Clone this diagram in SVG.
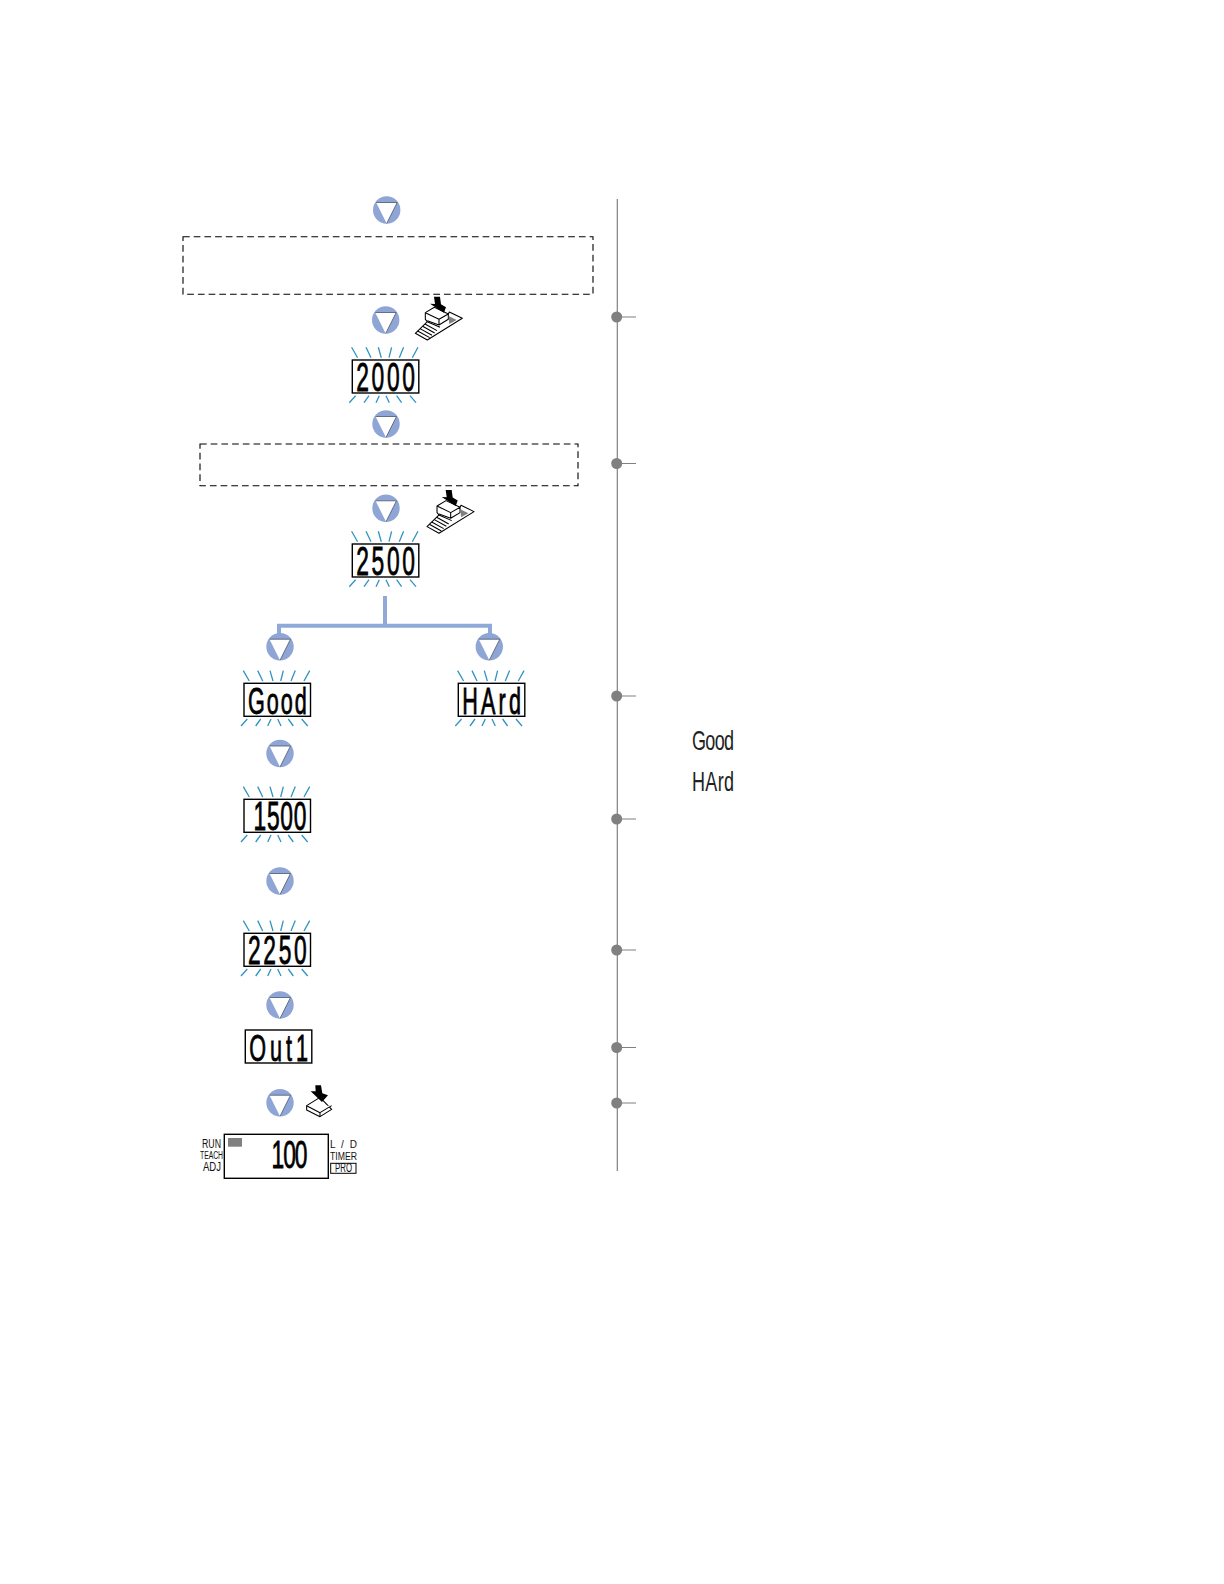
<svg xmlns="http://www.w3.org/2000/svg" width="1224" height="1584" viewBox="0 0 1224 1584">
<style>
.bg{fill:#fff}
.circ{fill:#8fa5d6}
.tri{fill:#fff}
.tre{fill:none;stroke:#4a5568;stroke-width:.8}
.ray{stroke:#2f93c4;stroke-width:1.3;fill:none}
.disp{fill:#fff;stroke:#000;stroke-width:1.4}
.seg{font-family:"Liberation Sans",Arial,sans-serif;font-size:19px;fill:#000;stroke:#000;stroke-width:.4;text-anchor:middle}
.seg2{font-family:"Liberation Sans",Arial,sans-serif;font-size:15px;fill:#222;text-anchor:start}
.dash{fill:none;stroke:#000;stroke-width:1.1;stroke-dasharray:6.700 4}
.branch{fill:none;stroke:#8fa9d8;stroke-width:4}
.rule{stroke:#808080;stroke-width:1.2;fill:none}
.dot{fill:#808080}
.lbl{font-family:"Liberation Sans",Arial,sans-serif;font-size:12px;fill:#111}
.ico{fill:#fff;stroke:#000;stroke-width:3.200;stroke-linejoin:round}
.arr{fill:#000}
.pad{fill:#808080}
</style>
<defs>
<g id="down"><circle class="circ" r="13.7"/><path class="tri" d="M-10.500-7.500H10.500L0 13.500Z"/><path class="tre" d="M-10.500-7.500H10.500L0 13.500"/></g>
<g id="rays" class="ray">
<path d="M-.7-12.700 5.300-2.300M13.700-12.700 18.700-2.300M26-12.700 29-2.300M39.300-12.700 36.700-2.300M51.300-12.700 47-2.300M65.700-12.700 60-2.300"/>
<path d="M-3 42.700 3.300 35.700M11.700 42.700 16.700 35.700M23.700 42.700 27 35.700M37 42.700 33.700 35.700M49.300 42.700 44.300 35.700M63.700 42.700 57.700 35.700"/>
</g>
<rect id="frame" class="disp" width="66.500" height="33"/>
<g id="pedal" transform="scale(.3333)">
<path class="ico" d="M226 430 262 395 256 388V368L283 352 325 372 328 366 367 385 262 450Z"/>
<path class="ico" d="M256 368 297 388 325 372M297 388V405L262 392M297 405 325 388V372"/>
<path class="pad" d="M326 378 350 390 328 402Z"/>
<path class="ico" fill="none" d="M233 423 269 443M240 416 276 436M248 409 284 429M255 402 291 422M262 395 300 412"/>
<path class="arr" d="M282 320H300L303 343 318 352 312 368 270 341 285 342Z"/>
</g>
</defs>
<rect class="bg" width="1224" height="1584"/>

<g id="connectors">
<path class="branch" d="M385 596V625.700M279 637V625.700H490V637"/>
<path class="rule" d="M617.300 199V1171"/>
<path class="rule" d="M617 317H636M617 463.500H636M617 696H636M617 819H636M617 950H636M617 1047.500H636M617 1103H636"/>
</g>

<g id="markers">
<circle class="dot" cx="616.700" cy="317" r="5.500"/>
<circle class="dot" cx="616.700" cy="463.500" r="5.500"/>
<circle class="dot" cx="616.700" cy="696" r="5.500"/>
<circle class="dot" cx="616.700" cy="819" r="5.500"/>
<circle class="dot" cx="616.700" cy="950" r="5.500"/>
<circle class="dot" cx="616.700" cy="1047.500" r="5.500"/>
<circle class="dot" cx="616.700" cy="1103" r="5.500"/>
</g>

<g id="step-1"><use href="#down" x="386.700" y="210"/></g>
<g id="note-1"><rect class="dash" x="183" y="236.700" width="410" height="57.600"/></g>
<g id="step-2"><use href="#down" x="385.700" y="320"/></g>
<g id="pedal-1"><use href="#pedal" transform="translate(340 190)"/></g>
<g id="display-2000" transform="translate(352.300 360)"><use href="#rays"/><use href="#frame"/><text class="seg" transform="translate(33.300 31) scale(1.200 2.100)" textLength="49">2000</text></g>
<g id="step-3"><use href="#down" x="386" y="424"/></g>
<g id="note-2"><rect class="dash" x="200" y="444" width="378" height="41.700"/></g>
<g id="step-4"><use href="#down" x="386" y="508.300"/></g>
<g id="pedal-2"><use href="#pedal" transform="translate(351.700 383.300)"/></g>
<g id="display-2500" transform="translate(352.300 544)"><use href="#rays"/><use href="#frame"/><text class="seg" transform="translate(33.300 31) scale(1.200 2.100)" textLength="49">2500</text></g>

<g id="step-good"><use href="#down" x="280" y="646.700"/></g>
<g id="step-hard"><use href="#down" x="489.300" y="646.700"/></g>
<g id="display-good" transform="translate(244 683.300)"><use href="#rays"/><use href="#frame"/><text class="seg" transform="translate(33.300 31) scale(1.200 2.100)" textLength="49" style="font-size:18px">Good</text></g>
<g id="display-hard" transform="translate(458.300 683.300)"><use href="#rays"/><use href="#frame"/><text class="seg" transform="translate(33.300 31) scale(1.200 2.100)" textLength="49" style="font-size:18px">HArd</text></g>
<g id="step-5"><use href="#down" x="280" y="753.500"/></g>
<g id="display-1500" transform="translate(244 799.300)"><use href="#rays"/><use href="#frame"/><text class="seg" transform="translate(36 31) scale(1.200 2.100)" textLength="44">1500</text></g>
<g id="step-6"><use href="#down" x="280" y="881"/></g>
<g id="display-2250" transform="translate(244 933.300)"><use href="#rays"/><use href="#frame"/><text class="seg" transform="translate(33.300 31) scale(1.200 2.100)" textLength="49">2250</text></g>
<g id="step-7"><use href="#down" x="280" y="1005"/></g>
<g id="display-out" transform="translate(245.300 1030)"><use href="#frame"/><text class="seg" transform="translate(33.300 31) scale(1.200 2.100)" textLength="49" style="font-size:18px">Out1</text></g>
<g id="step-8"><use href="#down" x="280" y="1102.700"/></g>
<g id="key-icon" transform="translate(190 1060) scale(.3333)">
<path class="ico" d="M350 137 390 112 425 148 390 170 350 150Z"/>
<path class="ico" d="M350 137 390 158 425 137M390 158V170"/>
<path class="arr" d="M376 76H393L397 100 414 106 396 126 362 94 377 94Z"/>
</g>

<g id="run-screen">
<rect class="disp" x="224.300" y="1134.300" width="104" height="44"/>
<rect x="228" y="1138" width="14" height="8.700" fill="#808080"/>
<text class="seg" transform="translate(289.500 1168) scale(1.200 2)" textLength="30">100</text>
<text class="lbl" x="202" y="1147.500" textLength="19" lengthAdjust="spacingAndGlyphs">RUN</text>
<text class="lbl" x="200" y="1159" textLength="23" lengthAdjust="spacingAndGlyphs" style="font-size:10px">TEACH</text>
<text class="lbl" x="203" y="1171" textLength="18" lengthAdjust="spacingAndGlyphs">ADJ</text>
<text class="lbl" x="330" y="1148" textLength="27" style="font-size:10px">L / D</text>
<text class="lbl" x="330" y="1160" textLength="27" lengthAdjust="spacingAndGlyphs" style="font-size:11px">TIMER</text>
<rect x="330.700" y="1163.300" width="25.300" height="10" fill="#fff" stroke="#000" stroke-width="1"/>
<text class="lbl" x="335" y="1172.300" textLength="17" lengthAdjust="spacingAndGlyphs">PRO</text>
</g>

<g id="legend-good"><text class="seg2" transform="translate(692 749.500) scale(1.200 1.900)" textLength="35">Good</text></g>
<g id="legend-hard"><text class="seg2" transform="translate(692 791) scale(1.200 1.900)" textLength="35">HArd</text></g>
</svg>
